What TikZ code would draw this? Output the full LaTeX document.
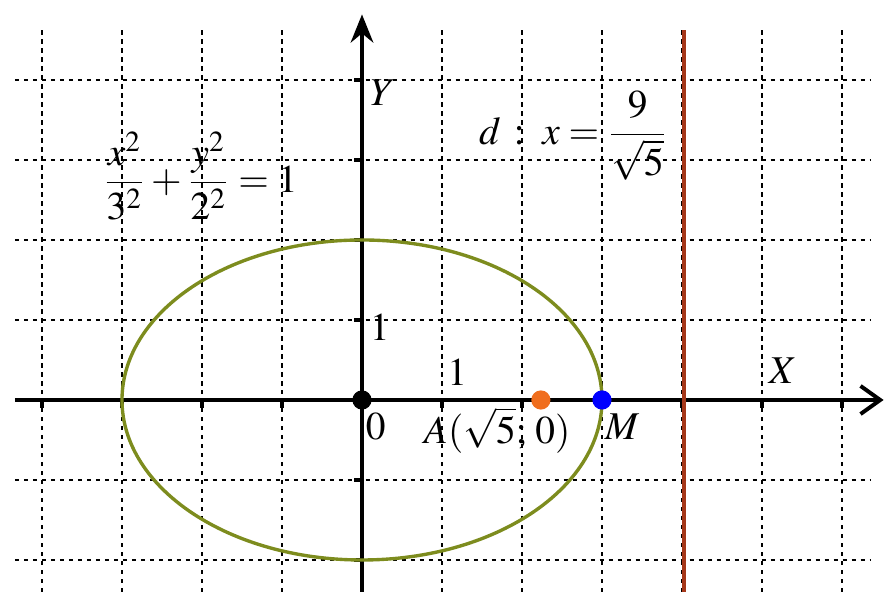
\documentclass[tikz,border=0pt]{standalone}
\usepackage{mathptmx}
\usetikzlibrary{arrows.meta}
\definecolor{elipse}{RGB}{125,140,30}
\definecolor{directriz}{RGB}{165,55,25}
\definecolor{naranja}{RGB}{240,110,30}

\begin{document}
\begin{tikzpicture}[font=\fontsize{14}{16}\selectfont,
    rejilla/.style={line width=0.7pt, dash pattern=on 1.5pt off 1.7pt},
    eje/.style={line width=1.6pt},
    punto/.style={circle, inner sep=0pt, minimum size=0.24cm}]
    \useasboundingbox (-4.525,-2.4) rectangle (6.525,5);

    % Rejilla punteada
    \foreach \x in {-4,...,6} \draw[rejilla] (\x,4.62) -- (\x,-2.4);
    \foreach \y in {-2,...,4} \draw[rejilla] (-4.34,\y) -- (6.35,\y);

    % Ejes
    \coordinate (xizq) at (-4.34,0);
    \coordinate (xder) at (6.52,0);
    \coordinate (yabajo) at (0,-2.4);
    \coordinate (yarriba) at (0,4.82);
    \draw[eje, -{Straight Barb[length=7pt,width=10pt,line width=1.4pt]}] (xizq) -- (xder);
    \draw[eje, -{Stealth[length=10pt,width=8pt]}] (yabajo) -- (yarriba);
    \foreach \x in {-4,...,6} \draw[line width=1.2pt] (\x,0) -- (\x,-0.1);
    \foreach \y in {-2,...,4} \draw[line width=1.2pt] (0,\y) -- (-0.1,\y);

    % Elipse y directriz
    \draw[elipse, line width=1.2pt] (0,0) ellipse (3 and 2);
    \coordinate (darriba) at (4.025,4.62);
    \coordinate (dabajo) at (4.025,-2.4);
    \draw[directriz, line width=1.5pt] (darriba) -- (dabajo);

    % Puntos
    \node (origen) [punto, fill=black] at (0,0) {};
    \node (puntoA) [punto, fill=naranja] at (2.236,0) {};
    \node (puntoM) [punto, fill=blue] at (3,0) {};

    % Textos
    \node (etiqY) at (0.26,3.84) {$Y$};
    \node (etiqX) at (5.26,0.37) {$X$};
    \node (unoY) at (0.22,0.91) {$1$};
    \node (unoX) at (1.19,0.35) {$1$};
    \node (cero) at (0.17,-0.33) {$0$};
    \node (etiqA) at (1.69,-0.38) {$A(\sqrt{5};\,0)$};
    \node (etiqM) at (3.25,-0.33) {$M$};
    \node (ecuacion) at (-2.02,2.8) {$\displaystyle\frac{x^2}{3^2}+\frac{y^2}{2^2}=1$};
    \node (recta) at (2.64,3.3) {$d\,:\;x=\displaystyle\frac{9}{\sqrt{5}}$};
\end{tikzpicture}
\end{document}
